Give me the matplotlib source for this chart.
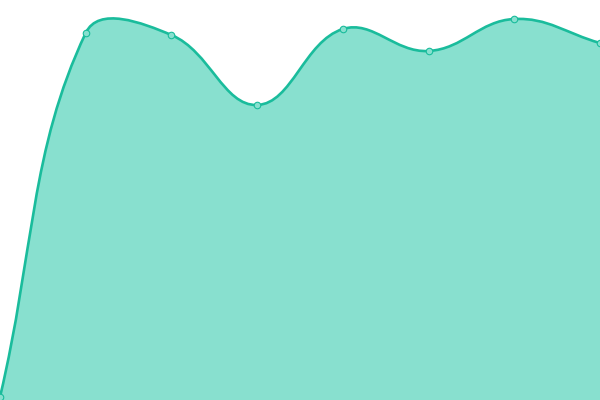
import numpy as np
import matplotlib.pyplot as plt
from matplotlib.path import Path
from matplotlib.patches import PathPatch

# data
labels = ["a", "b", "c", "d", "e", "f", "g", "h"]
values = [3, 367, 365, 295, 371, 349, 381, 357]

LINE = "#1abc9c"
FILL = "#88e0cf"
TENSION = 0.4


def spline_path(xs, ys, t=TENSION):
    # chart.js style bezier control points
    pts = np.column_stack([xs, ys]).astype(float)
    n = len(pts)
    cps = []
    for i in range(n):
        prev = pts[i - 1] if i > 0 else pts[i]
        cur = pts[i]
        nxt = pts[i + 1] if i < n - 1 else pts[i]
        d01 = np.hypot(*(cur - prev))
        d12 = np.hypot(*(nxt - cur))
        tot = d01 + d12
        s01 = d01 / tot if tot else 0
        s12 = d12 / tot if tot else 0
        fa, fb = t * s01, t * s12
        cps.append((cur - fa * (nxt - prev), cur + fb * (nxt - prev)))
    verts = [pts[0]]
    codes = [Path.MOVETO]
    for i in range(1, n):
        verts += [cps[i - 1][1], cps[i][0], pts[i]]
        codes += [Path.CURVE4] * 3
    return verts, codes


fig = plt.figure(figsize=(6, 4), dpi=100)
ax = fig.add_axes([0, 0, 1, 1])
ax.set_xlim(0, 600)
ax.set_ylim(0, 400)
ax.axis("off")

xs = np.linspace(0, 600, len(values))
verts, codes = spline_path(xs, values)

fill_verts = verts + [(600, 0), (0, 0), verts[0]]
fill_codes = codes + [Path.LINETO, Path.LINETO, Path.CLOSEPOLY]
ax.add_patch(PathPatch(Path(fill_verts, fill_codes), facecolor=FILL, edgecolor="none"))
ax.add_patch(PathPatch(Path(verts, codes), facecolor="none", edgecolor=LINE, lw=1.9))

ax.scatter(xs, values, s=22, facecolor=FILL, edgecolor=LINE, linewidth=0.8, zorder=3, clip_on=False)

fig.savefig("out.png", dpi=100)
